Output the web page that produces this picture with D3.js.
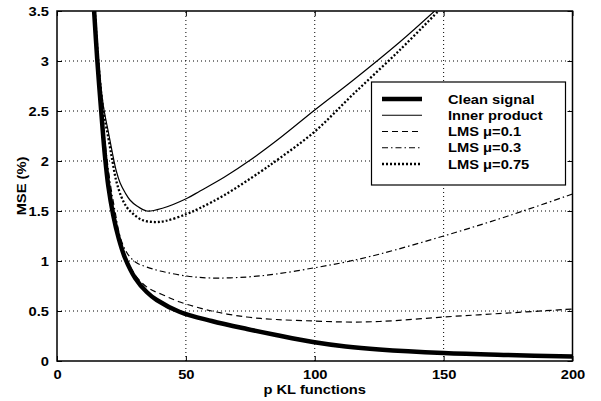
<!DOCTYPE html>
<html><head><meta charset="utf-8">
<script src="https://cdn.jsdelivr.net/npm/d3@7"></script>
<style>body{margin:0;background:#fff}svg{display:block}text{font-family:"Liberation Sans",Arial,sans-serif;fill:#000;font-weight:bold}</style>
</head><body>
<script>
// ---- data ----
const xTicks = [0, 50, 100, 150, 200];
const yTicks = [0, 0.5, 1, 1.5, 2, 2.5, 3, 3.5];
const xLabel = "p KL functions";
const yLabel = "MSE (%)";
const seriesNames = ["Clean signal", "Inner product", "LMS \u03bc=0.1", "LMS \u03bc=0.3", "LMS \u03bc=0.75"];

const cleanP = [14.4, 15.6, 17.3, 18.6, 19.9, 21.8, 24, 26.4, 30.3, 34.8, 38.7, 47.7, 60, 73.7, 85, 99.3, 112, 125, 150, 175, 200];
const cleanV = [3.5, 3.02, 2.45, 2.05, 1.75, 1.46, 1.22, 1.03, 0.83, 0.69, 0.61, 0.49, 0.40, 0.32, 0.26, 0.19, 0.145, 0.115, 0.08, 0.06, 0.045];

const innerP = [14.6, 16, 18, 20, 21.5, 23, 24.5, 26.5, 28.3, 31, 34.8, 41.2, 50.3, 55.5, 65, 75, 87, 100, 115, 133, 146.5];
const innerV = [3.5, 3.0, 2.55, 2.28, 2.08, 1.9, 1.78, 1.68, 1.61, 1.55, 1.50, 1.53, 1.625, 1.70, 1.84, 2.01, 2.24, 2.51, 2.81, 3.19, 3.5];

const lms01P = [14.7, 16, 17.6, 19.2, 21, 22.2, 24, 26.5, 29.6, 32.2, 36, 41.2, 47.7, 60, 73.6, 85, 99.4, 112, 125, 150, 175, 200];
const lms01V = [3.5, 3.0, 2.45, 2.0, 1.65, 1.48, 1.26, 1.05, 0.89, 0.8, 0.72, 0.66, 0.59, 0.50, 0.44, 0.415, 0.40, 0.39, 0.395, 0.44, 0.48, 0.52];

const lms03P = [14.8, 16, 17.8, 19.5, 21, 22.5, 24.4, 26.5, 28.3, 31, 34.8, 40, 50.3, 59.4, 73.6, 85, 99.4, 112, 125.3, 150, 175, 200];
const lms03V = [3.5, 3.0, 2.4, 2.0, 1.72, 1.5, 1.25, 1.11, 1.04, 0.98, 0.94, 0.90, 0.85, 0.83, 0.84, 0.87, 0.93, 0.99, 1.07, 1.25, 1.45, 1.67];

const lms075P = [14.7, 16, 18, 20, 21.5, 23, 25, 27, 29.6, 33, 37.4, 42, 50.3, 55.5, 65, 78.8, 86.5, 99.8, 115, 133, 148];
const lms075V = [3.5, 3.0, 2.5, 2.22, 2.0, 1.8, 1.64, 1.54, 1.47, 1.41, 1.39, 1.40, 1.47, 1.53, 1.66, 1.89, 2.03, 2.29, 2.67, 3.11, 3.5];

// ---- layout ----
const W = 601, H = 401;
const m = {left: 57, right: 28.5, top: 11, bottom: 40};
const svg = d3.select("body").append("svg").attr("width", W).attr("height", H);
const x = d3.scaleLinear().domain([0, 200]).range([m.left, W - m.right]);
const y = d3.scaleLinear().domain([0, 3.5]).range([H - m.bottom, m.top]);
const FS = 13, STRETCH = 1.13;

function stretch(sel) {
  sel.each(function () {
    const l = this.getComputedTextLength();
    d3.select(this).attr("textLength", l * STRETCH).attr("lengthAdjust", "spacingAndGlyphs");
  });
}

svg.append("defs").append("clipPath").attr("id", "clip")
  .append("rect").attr("x", x(0)).attr("y", y(3.5)).attr("width", x(200) - x(0)).attr("height", y(0) - y(3.5));

// grid
const grid = svg.append("g").attr("stroke", "#000").attr("stroke-width", 1).attr("stroke-dasharray", "1,3");
grid.selectAll(".gx").data(xTicks.slice(1, -1)).join("line")
  .attr("x1", d => x(d)).attr("x2", d => x(d)).attr("y1", y(0)).attr("y2", y(3.5));
grid.selectAll(".gy").data(yTicks.slice(1, -1)).join("line")
  .attr("y1", d => y(d)).attr("y2", d => y(d)).attr("x1", x(0)).attr("x2", x(200));

// axes (inward ticks, MATLAB style)
const TL = 5;
const axB = svg.append("g").attr("transform", `translate(0,${y(0)})`)
  .call(d3.axisBottom(x).tickValues(xTicks).tickSizeInner(-TL).tickSizeOuter(0).tickPadding(9).tickFormat(d3.format("d")));
const axT = svg.append("g").attr("transform", `translate(0,${y(3.5)})`)
  .call(d3.axisTop(x).tickValues(xTicks).tickSizeInner(-TL).tickSizeOuter(0).tickFormat(""));
const axL = svg.append("g").attr("transform", `translate(${x(0)},0)`)
  .call(d3.axisLeft(y).tickValues(yTicks).tickSizeInner(-TL).tickSizeOuter(0).tickPadding(8).tickFormat(d => d3.format("")(d)));
const axR = svg.append("g").attr("transform", `translate(${x(200)},0)`)
  .call(d3.axisRight(y).tickValues(yTicks).tickSizeInner(-TL).tickSizeOuter(0).tickFormat(""));
[axB, axT, axL, axR].forEach(a => {
  a.select(".domain").remove();
  a.selectAll("line").attr("stroke", "#000").attr("stroke-width", 1);
  a.selectAll("text").attr("font-size", FS).attr("font-family", "Liberation Sans, Arial, sans-serif")
    .attr("font-weight", "bold").attr("fill", "#000");
});
axB.selectAll("text").call(stretch);
axL.selectAll("text").call(stretch);

// curves
const line = d3.line().x(d => x(d[0])).y(d => y(d[1])).curve(d3.curveCatmullRom.alpha(0.5));
const series = [
  {p: cleanP, v: cleanV, w: 4.5, dash: null},
  {p: innerP, v: innerV, w: 1.2, dash: null},
  {p: lms01P, v: lms01V, w: 1.2, dash: "6,4"},
  {p: lms03P, v: lms03V, w: 1.2, dash: "6,3,1.5,3"},
  {p: lms075P, v: lms075V, w: 2.3, dash: "2,2"}
];
const cg = svg.append("g").attr("clip-path", "url(#clip)");
series.slice().reverse().forEach(s => {
  cg.append("path").datum(s.p.map((p, i) => [p, s.v[i]]))
    .attr("d", line).attr("fill", "none").attr("stroke", "#000")
    .attr("stroke-width", s.w).attr("stroke-dasharray", s.dash);
});

// frame
svg.append("rect").attr("x", x(0)).attr("y", y(3.5)).attr("width", x(200) - x(0)).attr("height", y(0) - y(3.5))
  .attr("fill", "none").attr("stroke", "#000").attr("stroke-width", 1.5);

// axis titles
svg.append("text").attr("x", (x(0) + x(200)) / 2).attr("y", 394).attr("text-anchor", "middle")
  .attr("font-size", FS).text(xLabel).call(stretch);
svg.append("text").attr("transform", `translate(26,${(y(0) + y(3.5)) / 2}) rotate(-90)`).attr("text-anchor", "middle")
  .attr("font-size", FS).text(yLabel).call(stretch);

// legend
const lg = svg.append("g");
lg.append("rect").attr("x", 371.5).attr("y", 82).attr("width", 194).attr("height", 103)
  .attr("fill", "#fff").attr("stroke", "#000").attr("stroke-width", 1.2);
const rowY = d3.scalePoint().domain(d3.range(seriesNames.length)).range([99, 164]);
series.forEach((s, i) => {
  lg.append("line").attr("x1", 382).attr("x2", 422).attr("y1", rowY(i)).attr("y2", rowY(i))
    .attr("stroke", "#000").attr("stroke-width", s.w).attr("stroke-dasharray", s.dash);
  lg.append("text").attr("x", 448).attr("y", rowY(i) + 4.5).attr("font-size", FS).text(seriesNames[i]).call(stretch);
});
</script>
</body></html>
